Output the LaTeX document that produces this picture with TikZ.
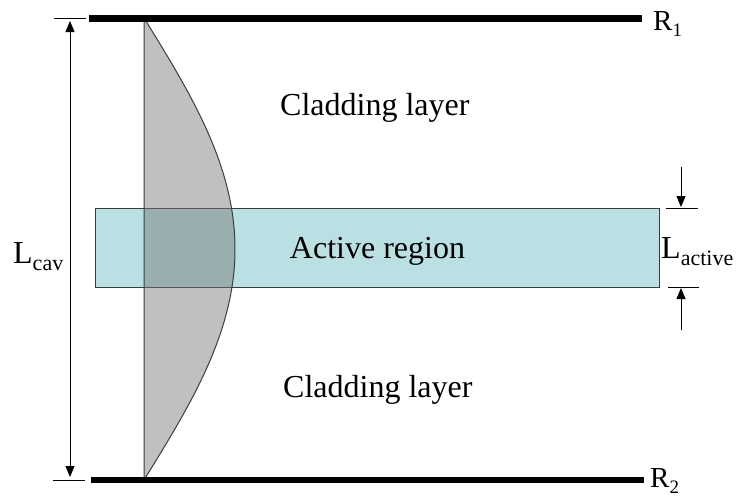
\documentclass[tikz,border=0pt]{standalone}
\usepackage{fontspec}
\setmainfont{Liberation Serif}
\usetikzlibrary{arrows.meta}
\definecolor{activefill}{RGB}{187,224,227}
\definecolor{modefill}{RGB}{117,117,117}
\definecolor{edge}{RGB}{60,60,60}
\begin{document}
\begin{tikzpicture}[x=1pt,y=-1pt,
  mirror/.style={line width=6.5pt},
  txt/.style={inner sep=0pt, anchor=base west, font=\fontsize{32}{38}\selectfont},
  rtxt/.style={inner sep=0pt, anchor=base west, font=\fontsize{29}{34}\selectfont},
  activebox/.style={draw=edge, line width=0.9pt, fill=activefill, inner sep=0pt,
    minimum width=564pt, minimum height=79pt},
  tickline/.style={line width=0.8pt},
  dim/.style={line width=0.8pt, >={Triangle[length=11pt,width=9pt]}},
  modeshape/.style={fill=modefill, fill opacity=0.46, draw=edge, line width=1pt},
]
\useasboundingbox (0,0) rectangle (737,498);

% active region slab
\node[activebox] (active) at (377,247.5) {};
\node[txt, anchor=base] (activetxt) at (377.5,258) {Active region};

% optical mode profile across the cavity
\coordinate (mtop) at (144,18);
\coordinate (mbot) at (144,480);
\draw[modeshape] (mtop)
  -- plot[domain=-231:231, samples=120, variable=\t] ({144+91*cos(\t/231*90)}, {249+\t})
  -- (mbot) -- cycle;

% mirrors
\coordinate (m1w) at (89,18.5);
\coordinate (m1e) at (642,18.5);
\coordinate (m2w) at (91,480);
\coordinate (m2e) at (644,480);
\draw[mirror] (m1w) -- (m1e);
\draw[mirror] (m2w) -- (m2e);
\node[rtxt] (R1) at (653,30) {R\raisebox{-6pt}{\fontsize{19}{19}\selectfont 1}};
\node[rtxt] (R2) at (650,487) {R\raisebox{-6pt}{\fontsize{19}{19}\selectfont 2}};

% layer labels
\node[txt] (clad1) at (280,115) {Cladding layer};
\node[txt] (clad2) at (283,397) {Cladding layer};

% cavity length dimension
\coordinate (ct1) at (54,18);
\coordinate (ct2) at (86,18);
\coordinate (cb1) at (53,480);
\coordinate (cb2) at (85,480);
\coordinate (ca1) at (70,21);
\coordinate (ca2) at (70,477);
\draw[tickline] (ct1) -- (ct2);
\draw[tickline] (cb1) -- (cb2);
\draw[dim, <->] (ca1) -- (ca2);
\node[txt] (Lcav) at (13,263) {L\raisebox{-7pt}{\fontsize{22}{22}\selectfont cav}};

% active thickness dimension
\coordinate (at1) at (666,208);
\coordinate (at2) at (698,208);
\coordinate (ab1) at (668,287);
\coordinate (ab2) at (699,287);
\coordinate (aa1) at (681,167);
\coordinate (aa2) at (681,207);
\coordinate (ab3) at (681,330);
\coordinate (ab4) at (681,288);
\draw[tickline] (at1) -- (at2);
\draw[tickline] (ab1) -- (ab2);
\draw[dim, ->] (aa1) -- (aa2);
\draw[dim, ->] (ab3) -- (ab4);
\node[txt] (Lact) at (661,258) {L\raisebox{-7pt}{\fontsize{22}{22}\selectfont active}};
\end{tikzpicture}
\end{document}
